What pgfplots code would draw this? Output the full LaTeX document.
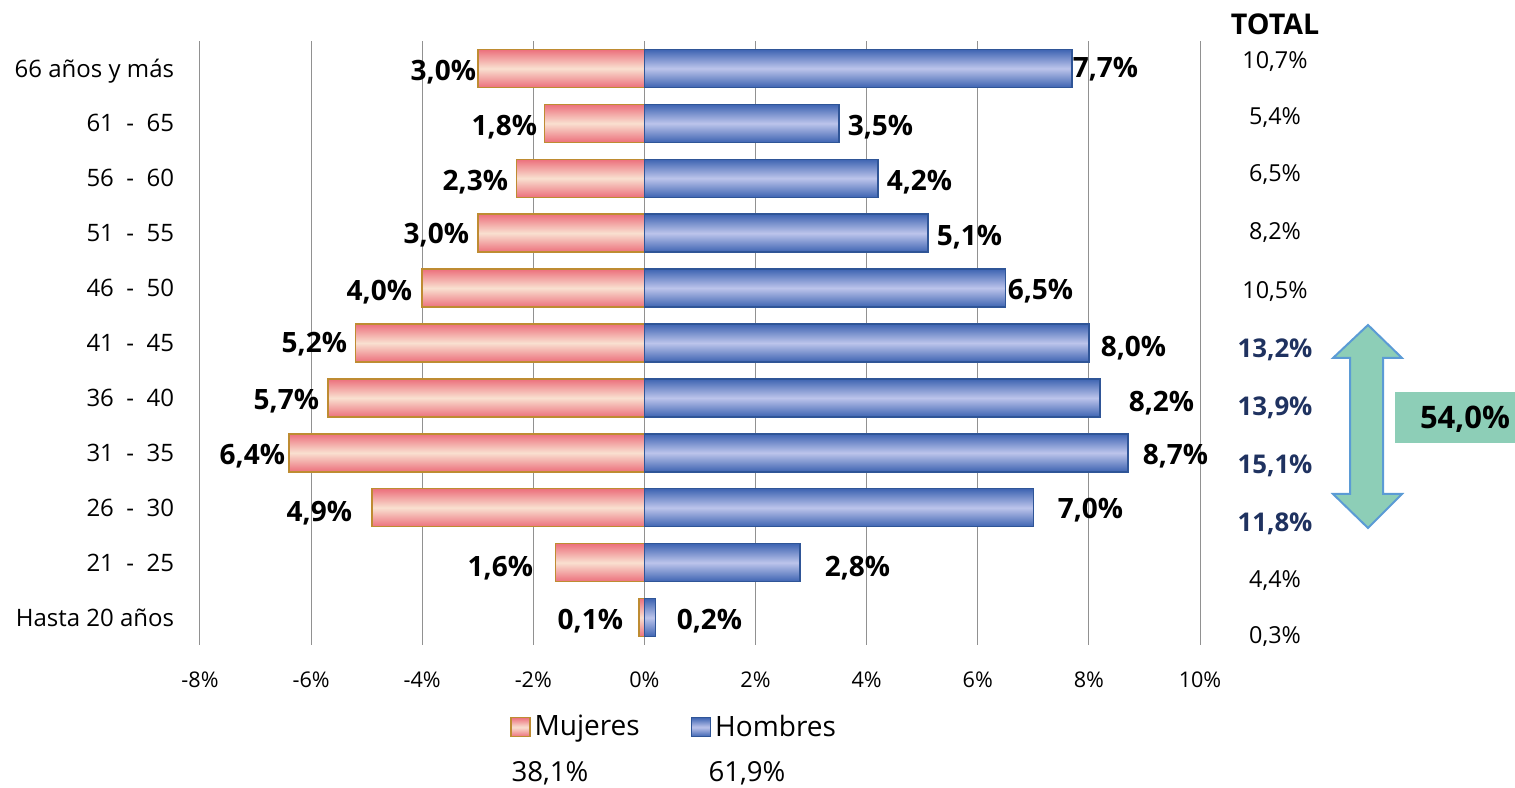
\documentclass[border=0pt]{standalone}
\usepackage{pgfplots}
\pgfplotsset{compat=1.18}
\usepackage{fontspec}
\setmainfont{Open Sans}
\definecolor{mpink}{RGB}{236,112,124}
\definecolor{mpeach}{RGB}{249,224,208}
\definecolor{mborder}{RGB}{190,140,50}
\definecolor{hblue}{RGB}{62,100,178}
\definecolor{hlight}{RGB}{188,196,235}
\definecolor{hborder}{RGB}{47,85,151}
\definecolor{navy}{RGB}{31,50,96}
\definecolor{mint}{RGB}{141,206,183}
\definecolor{arrowblue}{RGB}{91,155,213}
\definecolor{gridgray}{RGB}{145,145,145}
\newcommand\lbl{\fontsize{14}{16}\selectfont\bfseries}
\pgfplotsset{
  mstyle/.style={draw=mborder, line width=0.75pt, top color=mpink, bottom color=mpink, middle color=mpeach},
  hstyle/.style={draw=hborder, line width=0.75pt, top color=hblue, bottom color=hblue, middle color=hlight},
}
\newcommand\mujbar[2]{\addplot[mstyle, forget plot] coordinates {(#1,#2)};}
\newcommand\hombar[2]{\addplot[hstyle, forget plot] coordinates {(#1,#2)};}
\begin{document}
\begin{tikzpicture}
\useasboundingbox (-100pt,-71pt) rectangle (657.5pt,322.5pt);
\begin{axis}[
  at={(0,0)}, anchor=south west,
  scale only axis, width=500pt, height=302pt,
  xbar, bar width=19pt, bar shift=0pt,
  xmin=-8, xmax=10, ymin=-0.5, ymax=10.5,
  clip=false,
  xtick={-8,-6,...,10},
  xticklabels={-8\%,-6\%,-4\%,-2\%,0\%,2\%,4\%,6\%,8\%,10\%},
  ytick={0,...,10},
  yticklabels={Hasta 20 años,21~~-~~25,26~~-~~30,31~~-~~35,36~~-~~40,41~~-~~45,46~~-~~50,51~~-~~55,56~~-~~60,61~~-~~65,66 años y más},
  xticklabel style={anchor=base, inner sep=0pt, yshift=-21.25pt, font=\fontsize{10.8}{12}\selectfont},
  yticklabel style={anchor=base east, inner sep=0pt, xshift=-8.5pt, yshift=-4.3pt, font=\fontsize{12}{14}\selectfont},
  separate axis lines,
  axis line style={draw=none},
  every outer x axis line/.append style={draw=none},
  every outer y axis line/.append style={draw=none},
  tick style={draw=none},
  xmajorgrids,
  grid style={gridgray, line width=0.5pt},
  legend image code/.code={\draw[#1] (0pt,-4.75pt) rectangle (9.5pt,4.75pt);},
  legend style={draw=none, fill=none, legend columns=2,
    at={(0.475,-0.136)}, anchor=center,
    font=\fontsize{14}{16}\selectfont,
    /tikz/every even column/.append style={column sep=23.5pt}},
]
\addlegendimage{mstyle}
\addlegendentry{Mujeres}
\addlegendimage{hstyle}
\addlegendentry{Hombres}
% Mujeres
\mujbar{-0.1}{0}
\mujbar{-1.6}{1}
\mujbar{-4.9}{2}
\mujbar{-6.4}{3}
\mujbar{-5.7}{4}
\mujbar{-5.2}{5}
\mujbar{-4.0}{6}
\mujbar{-3.0}{7}
\mujbar{-2.3}{8}
\mujbar{-1.8}{9}
\mujbar{-3.0}{10}
% Hombres
\hombar{0.2}{0}
\hombar{2.8}{1}
\hombar{7.0}{2}
\hombar{8.7}{3}
\hombar{8.2}{4}
\hombar{8.0}{5}
\hombar{6.5}{6}
\hombar{5.1}{7}
\hombar{4.2}{8}
\hombar{3.5}{9}
\hombar{7.7}{10}
% Mujeres labels
\begin{scope}[every node/.style={anchor=base east, inner sep=0pt, yshift=-5pt, font=\lbl}]
\node at (axis cs:-3.024,9.964) {3,0\%};
\node at (axis cs:-1.926,8.964) {1,8\%};
\node at (axis cs:-2.448,7.964) {2,3\%};
\node at (axis cs:-3.150,7.0) {3,0\%};
\node at (axis cs:-4.176,5.964) {4,0\%};
\node at (axis cs:-5.346,5.018) {5,2\%};
\node at (axis cs:-5.850,3.964) {5,7\%};
\node at (axis cs:-6.462,2.964) {6,4\%};
\node at (axis cs:-5.256,1.927) {4,9\%};
\node at (axis cs:-1.998,0.927) {1,6\%};
\node at (axis cs:-0.378,-0.036) {0,1\%};
\end{scope}
% Hombres labels
\begin{scope}[every node/.style={anchor=base west, inner sep=0pt, yshift=-5pt, font=\lbl}]
\node at (axis cs:7.704,10.018) {7,7\%};
\node at (axis cs:3.654,8.964) {3,5\%};
\node at (axis cs:4.356,7.964) {4,2\%};
\node at (axis cs:5.256,6.964) {5,1\%};
\node at (axis cs:6.534,5.982) {6,5\%};
\node at (axis cs:8.208,4.945) {8,0\%};
\node at (axis cs:8.712,3.927) {8,2\%};
\node at (axis cs:8.964,2.964) {8,7\%};
\node at (axis cs:7.434,1.982) {7,0\%};
\node at (axis cs:3.240,0.927) {2,8\%};
\node at (axis cs:0.576,-0.036) {0,2\%};
\end{scope}
\end{axis}
\begin{scope}[x=0.5pt, y=-0.5pt, shift={(-100pt,322.5pt)}]
  \node[anchor=base, inner sep=0pt, yshift=-5.1pt, font=\fontsize{14.3}{16}\selectfont\bfseries] at (1275,24) {TOTAL};
  \begin{scope}[every node/.style={anchor=base, inner sep=0pt, yshift=-4.2pt, font=\fontsize{11.7}{13}\selectfont}]
    \node at (1275,60) {10,7\%};
    \node at (1275,116) {5,4\%};
    \node at (1275,173) {6,5\%};
    \node at (1275,231) {8,2\%};
    \node at (1275,290) {10,5\%};
    \node at (1275,579) {4,4\%};
    \node at (1275,635) {0,3\%};
  \end{scope}
  \begin{scope}[every node/.style={anchor=base, inner sep=0pt, yshift=-4.6pt, text=navy, font=\fontsize{12.9}{14}\selectfont\bfseries}]
    \node at (1275,348) {13,2\%};
    \node at (1275,406) {13,9\%};
    \node at (1275,464) {15,1\%};
    \node at (1275,522) {11,8\%};
  \end{scope}
  \draw[fill=mint, draw=arrowblue, line width=1pt]
    (1368,325) -- (1402,358) -- (1383,358) -- (1383,494) -- (1402,494) -- (1368,528)
    -- (1333,494) -- (1350,494) -- (1350,358) -- (1333,358) -- cycle;
  \fill[mint] (1395,392) rectangle (1515,443);
  \node[anchor=base, inner sep=0pt, yshift=-5.5pt, font=\fontsize{15.5}{17}\selectfont\bfseries] at (1465,418) {54,0\%};
  \begin{scope}[every node/.style={anchor=base, inner sep=0pt, yshift=-4.9pt, font=\fontsize{13.8}{15}\selectfont}]
    \node at (550,772) {38,1\%};
    \node at (747,772) {61,9\%};
  \end{scope}
\end{scope}
\end{tikzpicture}
\end{document}
